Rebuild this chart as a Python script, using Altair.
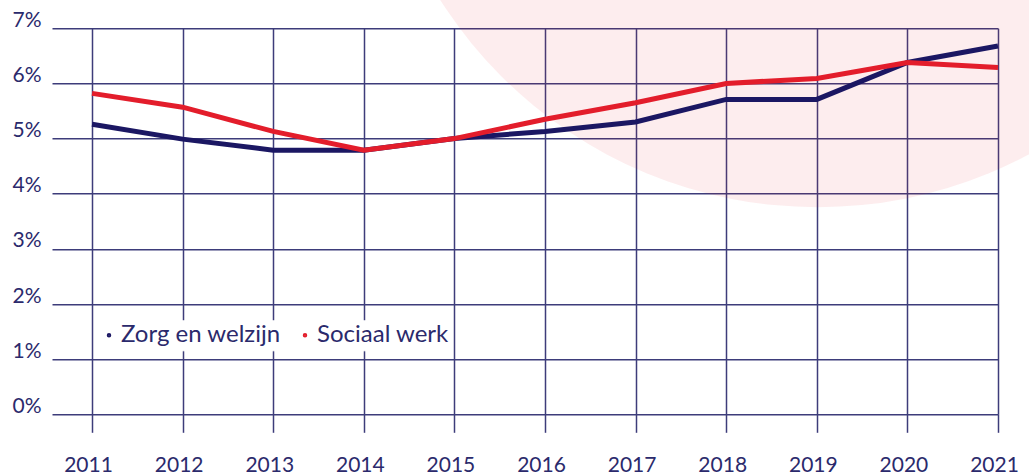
import altair as alt
import pandas as pd

years = [2011, 2012, 2013, 2014, 2015, 2016, 2017, 2018, 2019, 2020, 2021]
zorg = [5.26, 4.99, 4.79, 4.79, 5.0, 5.13, 5.3, 5.71, 5.71, 6.38, 6.68]
sociaal = [5.82, 5.57, 5.13, 4.79, 5.0, 5.35, 5.65, 6.0, 6.09, 6.38, 6.29]
series_names = ["Zorg en welzijn", "Sociaal werk"]
series_colors = ["#1b1763", "#e31d2b"]
y_ticks = [0, 1, 2, 3, 4, 5, 6, 7]

# decorative background circle (data units)
deco_year = [2019.01]
deco_value = [11.87]

rows = []
for y, v in zip(years, zorg):
    rows.append({"jaar": y, "waarde": v, "reeks": series_names[0]})
for y, v in zip(years, sociaal):
    rows.append({"jaar": y, "waarde": v, "reeks": series_names[1]})
df = pd.DataFrame(rows)
deco = pd.DataFrame({"jaar": deco_year, "waarde": deco_value})

GRID = "#3d3c7a"
TEXT = "#2b2a6c"
FONT = "Lato"

xscale = alt.Scale(domain=[2010.558, 2021], nice=False, zero=False)
yscale = alt.Scale(domain=[0, 7], nice=False)

xaxis = alt.Axis(
    values=years,
    format="d",
    title=None,
    domain=False,
    grid=True,
    gridColor=GRID,
    gridWidth=1.5,
    gridOpacity=1,
    ticks=True,
    tickSize=18,
    tickColor=GRID,
    tickWidth=1.5,
    labelFont=FONT,
    labelFontSize=21,
    labelColor=TEXT,
    labelPadding=22,
    labelOffset=-4,
    labelBaseline="top",
    labelFlush=False,
    labelOverlap=False,
)
yaxis = alt.Axis(
    values=y_ticks,
    labelExpr="datum.value + '%'",
    title=None,
    domain=False,
    grid=True,
    gridColor=GRID,
    gridWidth=1.5,
    gridOpacity=1,
    ticks=False,
    labelFont=FONT,
    labelFontSize=21,
    labelColor=TEXT,
    labelPadding=11,
    labelBaseline="alphabetic",
    labelOffset=-2,
    labelFlush=False,
)

circle = alt.Chart(deco).mark_circle(
    color="#e31d2b", opacity=0.08, clip=False
).encode(
    x=alt.X("jaar:Q", scale=xscale, axis=xaxis),
    y=alt.Y("waarde:Q", scale=yscale, axis=yaxis),
    size=alt.value(801000),
)

lines = alt.Chart(df).mark_line(strokeWidth=5).encode(
    x=alt.X("jaar:Q", scale=xscale, axis=xaxis),
    y=alt.Y("waarde:Q", scale=yscale, axis=yaxis),
    color=alt.Color(
        "reeks:N",
        scale=alt.Scale(domain=series_names, range=series_colors),
        legend=alt.Legend(
            title=None,
            orient="none",
            legendX=42,
            legendY=292,
            direction="horizontal",
            symbolType="circle",
            symbolSize=4,
            symbolStrokeWidth=2.5,
            labelFont=FONT,
            labelFontSize=24,
            labelColor=TEXT,
            labelOffset=0,
            columnPadding=12,
            padding=3,
            fillColor="white",
            strokeColor="white",
        ),
    ),
    order=alt.Order("reeks:N", sort="descending"),
)

chart = alt.layer(circle, lines).properties(
    width=946,
    height=386,
    autosize=alt.AutoSizeParams(type="none"),
    padding={"left": 52, "top": 28.3, "right": 31, "bottom": 60.7},
    background="white",
).configure_view(stroke=None)

chart.save("out.html", embed_options={"renderer": "svg", "actions": False})
